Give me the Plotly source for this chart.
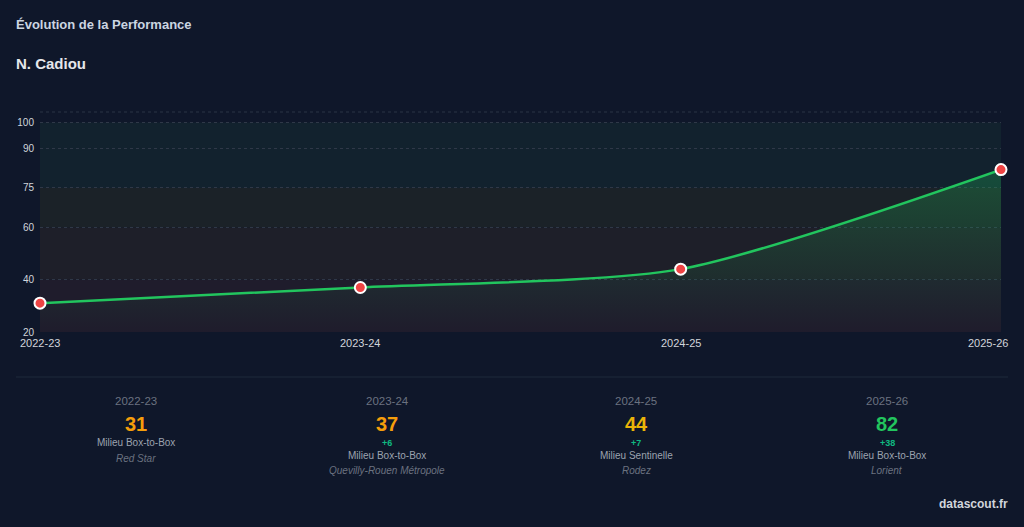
import plotly.graph_objects as go

# ---- data ----
seasons = ["2022-23", "2023-24", "2024-25", "2025-26"]
scores = [31, 37, 44, 82]
positions = ["Milieu Box-to-Box", "Milieu Box-to-Box", "Milieu Sentinelle", "Milieu Box-to-Box"]
clubs = ["Red Star", "Quevilly-Rouen Métropole", "Rodez", "Lorient"]
y_ticks = [20, 40, 60, 75, 90, 100]
player = "N. Cadiou"

BG = "#0f172a"
FONT = "Liberation Sans, Arial, Helvetica, sans-serif"

def score_color(v):
    if v >= 75:
        return "#22c55e"
    if v >= 40:
        return "#eab308"
    return "#f59e0b"

W, H = 1024, 527
L, R, T, B = 40, 23, 112, 195
PW, PH = W - L - R, H - T - B

def px(x):
    return (x - L) / PW

def py(y):
    return (H - B - y) / PH

x_idx = list(range(len(seasons)))

fig = go.Figure()
fig.add_trace(go.Scatter(
    x=x_idx, y=scores, mode="lines+markers",
    line=dict(color="#22c55e", width=2.5, shape="spline", smoothing=0.7),
    marker=dict(size=11, color="#ef4444", line=dict(color="#ffffff", width=2)),
    fill="tozeroy",
    fillgradient=dict(type="vertical", start=20, stop=85,
                      colorscale=[[0, "rgba(34,197,94,0)"], [1, "rgba(34,197,94,0.28)"]]),
    hoverinfo="skip", showlegend=False, cliponaxis=False,
))

# background bands
bands = [(20, 40, "#1f1c2c"), (40, 60, "#1e1f29"), (60, 75, "#1b2228"), (75, 100, "#12222e")]
shapes = []
for y0, y1, c in bands:
    shapes.append(dict(type="rect", xref="paper", yref="y", x0=0, x1=1, y0=y0, y1=y1,
                       fillcolor=c, line=dict(width=0), layer="below"))
# top dashed line
shapes.append(dict(type="line", xref="paper", yref="paper", x0=0, x1=1, y0=1, y1=1,
                   line=dict(color="#2b3444", width=1, dash="3px,3px"), layer="below"))
# separator
shapes.append(dict(type="line", xref="paper", yref="paper", x0=px(16), x1=px(1008),
                   y0=py(377), y1=py(377), line=dict(color="#1f2a3a", width=1)))

annotations = [
    dict(text="<b>Évolution de la Performance</b>", x=px(14), y=py(24), xref="paper", yref="paper",
         xanchor="left", yanchor="middle", showarrow=False, font=dict(size=13, color="#cbd5e1", family=FONT)),
    dict(text=f"<b>{player}</b>", x=px(14), y=py(64), xref="paper", yref="paper",
         xanchor="left", yanchor="middle", showarrow=False, font=dict(size=15, color="#e5e7eb", family=FONT)),
    dict(text="<b>datascout.fr</b>", x=px(1010), y=py(504), xref="paper", yref="paper",
         xanchor="right", yanchor="middle", showarrow=False, font=dict(size=12, color="#d1d5db", family=FONT)),
]

# x-axis category labels (last one kept inside the chart like the reference)
for i, s in enumerate(seasons):
    last = i == len(seasons) - 1
    annotations.append(dict(text=s, x=x_idx[i], y=py(343), xref="x", yref="paper",
                            xanchor="right" if last else "center", xshift=9 if last else 0,
                            yanchor="middle", showarrow=False,
                            font=dict(size=11, color="#d1d5db", family=FONT)))

centers = [136, 387, 636, 887]
for i, s in enumerate(seasons):
    cx = px(centers[i])
    def ann(text, y, size, color, **kw):
        annotations.append(dict(text=text, x=cx, y=py(y), xref="paper", yref="paper",
                                xanchor="center", yanchor="middle", showarrow=False,
                                font=dict(size=size, color=color, family=FONT), **kw))
    ann(s, 401, 11.5, "#6b7280")
    ann(f"<b>{scores[i]}</b>", 424, 20, score_color(scores[i]))
    if i > 0:
        d = scores[i] - scores[i - 1]
        ann(f"<b>{'+' if d >= 0 else ''}{d}</b>", 443, 9, "#10b981" if d >= 0 else "#ef4444")
        ann(positions[i], 456, 10, "#9ca3af")
        ann(f"<i>{clubs[i]}</i>", 470, 10, "#6b7280")
    else:
        ann(positions[i], 443, 10, "#9ca3af")
        ann(f"<i>{clubs[i]}</i>", 458, 10, "#6b7280")

fig.update_layout(
    width=W, height=H, autosize=False,
    paper_bgcolor=BG, plot_bgcolor=BG,
    margin=dict(l=L, r=R, t=T, b=B, pad=0),
    shapes=shapes, annotations=annotations,
    font=dict(family=FONT, color="#d1d5db"),
    xaxis=dict(range=[0, 3], tickvals=x_idx, showticklabels=False, showgrid=False, zeroline=False,
               showline=False, ticks="", automargin=False),
    yaxis=dict(range=[20, 104], tickvals=y_ticks, showgrid=True, gridcolor="#2f3848",
               griddash="3px,3px", gridwidth=1, zeroline=False, showline=False, ticks="",
               tickfont=dict(size=10, color="#d1d5db"), ticklabelstandoff=5, automargin=False),
    hovermode=False,
)

fig.write_html(
    "out.html",
    config={"displayModeBar": False, "responsive": False},
    post_script="document.body.style.margin='0';document.body.style.overflow='hidden';"
                "document.body.style.background='#0f172a';",
)
